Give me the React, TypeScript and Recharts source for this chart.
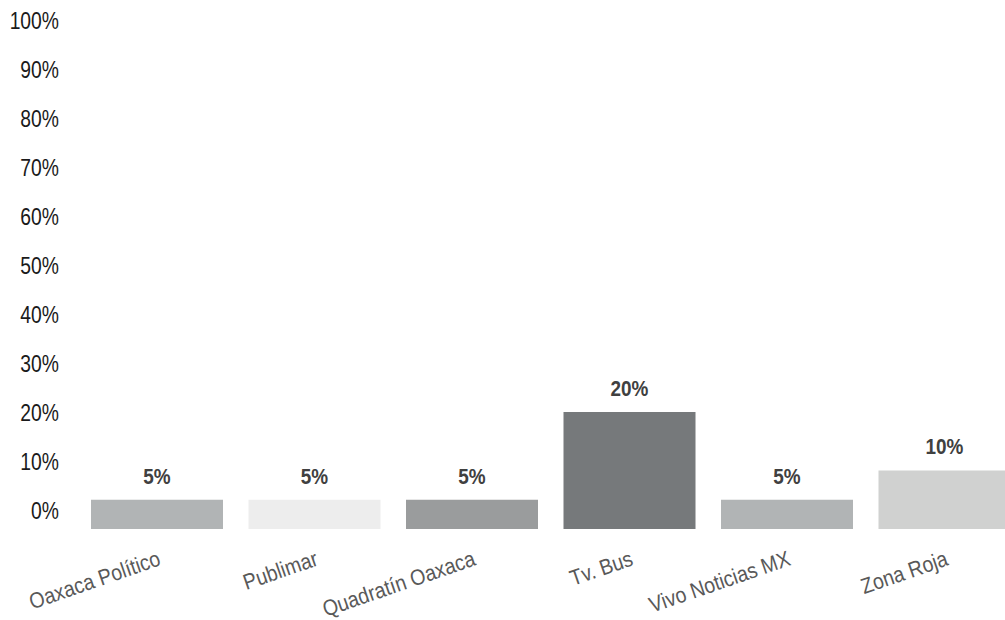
import { Bar, BarChart, Cell, LabelList, XAxis, YAxis } from "recharts";

const categories = [
  "Oaxaca Político",
  "Publimar",
  "Quadratín Oaxaca",
  "Tv. Bus",
  "Vivo Noticias MX",
  "Zona Roja",
];
const shares = [5, 5, 5, 20, 5, 10];
const barColors = ["#b1b4b5", "#ededed", "#9a9c9d", "#76797b", "#b1b4b5", "#d0d1d0"];
const percentTicks = [0, 10, 20, 30, 40, 50, 60, 70, 80, 90, 100];

const data = categories.map((name, i) => ({ name, value: shares[i] }));

const font = "'Liberation Sans', Arial, sans-serif";

// the source uses a narrow font, so squeeze Liberation Sans sideways
function CategoryTick(props: any) {
  const { x, y, payload } = props;
  return (
    <g transform={`translate(${x},${y}) rotate(-19)`}>
      <text
        transform="scale(0.89,1)"
        textAnchor="end"
        dy="0.71em"
        fill="#595959"
        fontSize={22}
        fontFamily={font}
      >
        {payload.value}
      </text>
    </g>
  );
}

function PercentTick(props: any) {
  const { x, y, payload } = props;
  return (
    <text
      transform={`translate(${x},${y}) scale(0.84,1)`}
      textAnchor="end"
      dy="0.355em"
      fill="#1a1a1a"
      fontSize={23}
      fontFamily={font}
    >
      {`${payload.value}%`}
    </text>
  );
}

function ValueLabel(props: any) {
  const { x, y, width, value } = props;
  return (
    <text
      transform={`translate(${Number(x) + Number(width) / 2},${Number(y) - 16}) scale(0.86,1)`}
      textAnchor="middle"
      fill="#404040"
      fontSize={22}
      fontWeight={700}
      fontFamily={font}
    >
      {`${value}%`}
    </text>
  );
}

export default function App() {
  return (
    <div
      style={{
        position: "absolute",
        left: 0,
        top: 0,
        width: 1005,
        height: 620,
        overflow: "hidden",
      }}
    >
      <BarChart
        width={1023}
        height={620}
        data={data}
        margin={{ top: 18, right: 0, bottom: 0, left: 0 }}
        barSize={132}
        style={{ fontFamily: font }}
      >
        <XAxis
          dataKey="name"
          height={91}
          axisLine={false}
          tickLine={false}
          tickMargin={15}
          interval={0}
          tick={<CategoryTick />}
        />
        <YAxis
          yAxisId="labels"
          width={78}
          type="number"
          domain={[-3.776, 100.51]}
          ticks={percentTicks}
          allowDataOverflow
          axisLine={false}
          tickLine={false}
          tickMargin={13}
          tick={<PercentTick />}
        />
        <YAxis
          yAxisId="bars"
          orientation="right"
          width={0}
          hide
          type="number"
          domain={[0, 87.35]}
          allowDataOverflow
        />
        <Bar yAxisId="bars" dataKey="value" isAnimationActive={false}>
          {data.map((d, i) => (
            <Cell key={d.name} fill={barColors[i]} />
          ))}
          <LabelList dataKey="value" content={<ValueLabel />} />
        </Bar>
      </BarChart>
    </div>
  );
}
